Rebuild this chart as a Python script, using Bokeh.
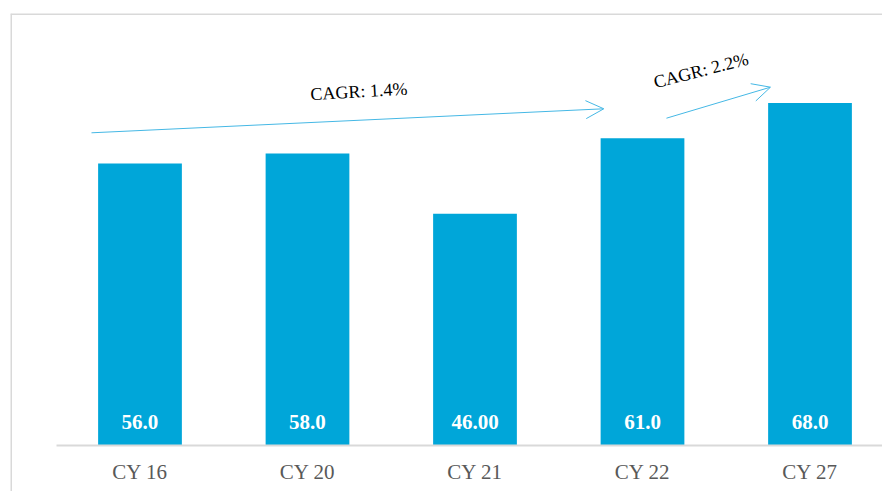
from bokeh.plotting import figure
from bokeh.models import (ColumnDataSource, Range1d, FixedTicker, Span, Arrow,
                          OpenHead, Label)
from bokeh.core.properties import value
from bokeh.embed import file_html
from bokeh.resources import INLINE

# ---- data ----
categories = ["CY 16", "CY 20", "CY 21", "CY 22", "CY 27"]
values = [56.0, 58.0, 46.0, 61.0, 68.0]
value_labels = ["56.0", "58.0", "46.00", "61.0", "68.0"]
cagr_labels = ["CAGR: 1.4%", "CAGR: 2.2%"]

positions = [i + 0.5 for i in range(len(categories))]
zeros = [0.0] * len(categories)

BAR = "#00A6D9"
ARROW = "#45B8E5"
BORDER = "#D9D9D9"
SERIF = "Liberation Serif"

x_start, x_end = -0.2731, 4.9328
y_start, y_end = -9.134, 85.78

p = figure(width=882, height=491, output_backend="svg", toolbar_location=None,
           x_range=Range1d(x_start, x_end), y_range=Range1d(y_start, y_end),
           min_border_left=10, min_border_right=0, min_border_top=13,
           min_border_bottom=0)
p.outline_line_color = None
p.outline_line_alpha = 0
p.background_fill_color = "white"
p.border_fill_color = "white"
p.grid.visible = False
p.yaxis.visible = False

src = ColumnDataSource(dict(x=positions, top=values, y=zeros, lab=value_labels))
p.vbar(x="x", top="top", bottom=0, width=0.5, source=src,
       fill_color=BAR, line_color=None)
p.text(x="x", y="y", text="lab", source=src, text_color="white",
       text_font=value(SERIF), text_font_style="bold", text_font_size="21px",
       text_align="center", text_baseline="alphabetic", y_offset=-23)

ax = p.xaxis[0]
ax.fixed_location = 0
ax.bounds = (0, x_end)
ax.ticker = FixedTicker(ticks=positions)
ax.major_label_overrides = {pos: cat for pos, cat in zip(positions, categories)}
ax.axis_line_color = BORDER
ax.axis_line_width = 2
ax.major_tick_line_color = None
ax.minor_tick_line_color = None
ax.major_label_text_font = SERIF
ax.major_label_text_font_size = "21px"
ax.major_label_text_color = "#595959"
ax.major_label_standoff = 9

# chart border (left and top)
p.add_layout(Span(location=x_start, dimension="height", line_color=BORDER, line_width=3))
p.add_layout(Span(location=y_end, dimension="width", line_color=BORDER, line_width=3))

# CAGR arrows
p.add_layout(Arrow(end=OpenHead(size=18, line_color=ARROW, line_width=1),
                   x_start=0.2104, y_start=62.09, x_end=3.269, y_end=66.86,
                   line_color=ARROW, line_width=1))
p.add_layout(Arrow(end=OpenHead(size=18, line_color=ARROW, line_width=1),
                   x_start=3.643, y_start=64.99, x_end=4.264, y_end=71.15,
                   line_color=ARROW, line_width=1))

p.add_layout(Label(x=1.807, y=70.3, text=cagr_labels[0], angle=0.058,
                   text_align="center", text_baseline="middle",
                   text_font=SERIF, text_font_size="18px", text_color="black"))
p.add_layout(Label(x=3.849, y=74.46, text=cagr_labels[1], angle=0.25,
                   text_align="center", text_baseline="middle",
                   text_font=SERIF, text_font_size="18px", text_color="black"))

open("out.html", "w").write(file_html(p, INLINE))
